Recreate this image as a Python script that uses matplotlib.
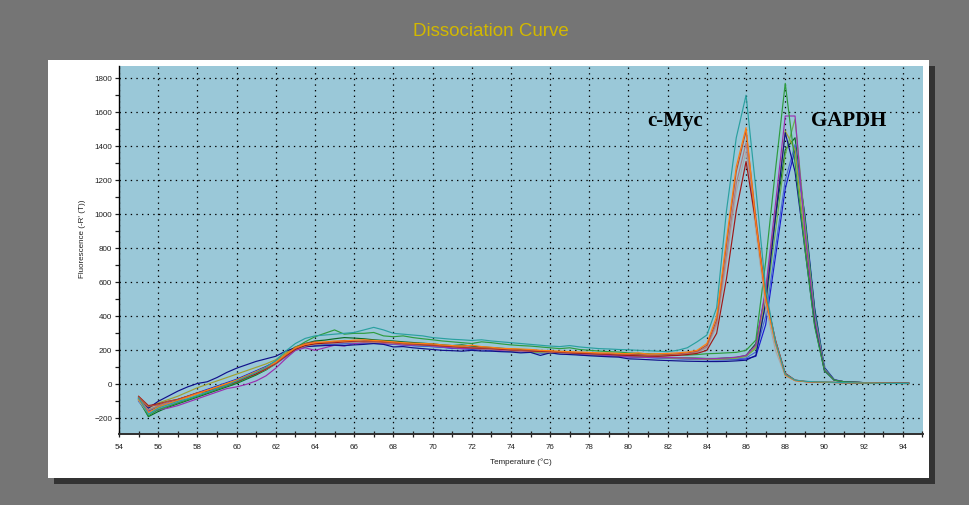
import matplotlib
matplotlib.use("Agg")
import matplotlib.pyplot as plt
from matplotlib.patches import Rectangle
from matplotlib.ticker import MultipleLocator

# ---------------- data ----------------
temps = [55.0, 55.5, 56.0, 56.5, 57.0, 57.5, 58.0, 58.5, 59.0, 59.5, 60.0, 60.5, 61.0, 61.5, 62.0, 62.5, 63.0, 63.5, 64.0,
         64.5, 65.0, 65.5, 66.0, 66.5, 67.0, 67.5, 68.0, 68.5, 69.0, 69.5, 70.0, 70.5, 71.0, 71.5, 72.0, 72.5, 73.0,
         73.5, 74.0, 74.5, 75.0, 75.5, 76.0, 76.5, 77.0, 77.5, 78.0, 78.5, 79.0, 79.5, 80.0, 80.5, 81.0, 81.5, 82.0,
         82.5, 83.0, 83.5, 84.0, 84.5, 85.0, 85.5, 86.0, 86.5, 87.0, 87.5, 88.0, 88.5, 89.0, 89.5, 90.0, 90.5,
         91.0, 92.0, 93.0, 94.3]

# c-Myc wells
myc_teal = [-80, -175, -140, -120, -100, -85, -65, -45, -25, -5, 20, 45, 70, 100, 140, 195, 240, 270, 285,
            290, 295, 300, 305, 320, 335, 320, 300, 295, 290, 285, 275, 270, 265, 262, 258, 262, 255, 250, 245, 240, 235, 230, 225, 222, 228, 220, 215, 210, 208, 205, 203, 200, 198, 195, 192,
            200, 215, 250, 290, 450, 1020, 1450, 1700, 1150, 560, 250, 60, 25, 18, 15, 14, 12,
            10, 8, 6, 5]
myc_orange = [-90, -165, -135, -115, -95, -75, -55, -35, -15, 5, 25, 50, 75, 100, 130, 175, 215, 235, 245,
              250, 255, 255, 260, 262, 258, 255, 250, 245, 242, 240, 238, 232, 228, 225, 230, 222, 218, 212, 210, 208, 205, 200, 198, 195, 192, 190, 188, 185, 185, 182, 180, 185, 178, 180, 182,
              185, 190, 200, 240, 400, 850, 1280, 1510, 950, 500, 240, 55, 22, 16, 14, 12, 11,
              10, 8, 6, 5]
myc_brown = [-75, -130, -120, -100, -90, -70, -50, -35, -20, 0, 20, 45, 70, 95, 125, 170, 215, 240, 250,
             245, 250, 258, 255, 250, 252, 248, 245, 240, 235, 238, 232, 228, 225, 220, 218, 215, 212, 210, 205, 200, 203, 198, 195, 190, 188, 186, 185, 182, 180, 178, 176, 175, 172, 170, 175,
             180, 185, 195, 230, 380, 820, 1250, 1490, 980, 520, 260, 60, 24, 17, 14, 13, 11,
             10, 8, 6, 5]
myc_rosy = [-85, -150, -125, -110, -90, -72, -55, -38, -20, 0, 22, 45, 70, 95, 125, 170, 210, 230, 240,
            245, 248, 250, 252, 250, 248, 245, 240, 238, 235, 232, 228, 225, 222, 218, 215, 212, 208, 205, 200, 198, 195, 192, 190, 188, 185, 183, 180, 178, 176, 174, 172, 170, 175, 172, 170,
            175, 180, 190, 220, 360, 760, 1180, 1420, 950, 500, 240, 55, 22, 16, 14, 12, 11,
            10, 8, 6, 5]
myc_gray = [-95, -170, -140, -120, -100, -80, -60, -40, -22, -2, 18, 42, 65, 90, 120, 165, 205, 225, 235,
            240, 242, 245, 248, 250, 250, 247, 243, 240, 236, 232, 230, 226, 222, 220, 215, 210, 208, 205, 200, 198, 196, 194, 190, 186, 184, 182, 180, 178, 176, 175, 172, 170, 168, 168, 170,
            172, 178, 188, 215, 340, 720, 1130, 1370, 900, 460, 200, 50, 22, 16, 14, 12, 11,
            10, 8, 6, 5]
myc_darkred = [-70, -125, -115, -100, -88, -70, -50, -40, -25, -5, 15, 40, 62, 90, 122, 165, 205, 228, 238,
               242, 245, 250, 252, 255, 258, 250, 246, 240, 236, 232, 230, 225, 222, 218, 214, 212, 210, 206, 202, 200, 196, 194, 192, 188, 185, 182, 180, 178, 176, 172, 170, 168, 166, 165, 168,
               170, 175, 182, 200, 300, 620, 1020, 1310, 950, 520, 260, 65, 25, 17, 14, 12, 11,
               10, 8, 6, 5]

# GAPDH wells
gap_green = [-90, -185, -150, -130, -110, -90, -70, -50, -30, -10, 10, 35, 60, 85, 120, 170, 215, 250, 280,
             300, 320, 295, 300, 300, 305, 285, 280, 285, 275, 268, 262, 255, 250, 245, 240, 250, 245, 238, 232, 228, 225, 220, 215, 210, 215, 205, 200, 196, 192, 190, 185, 182, 180, 178, 176,
             174, 172, 175, 180, 182, 185, 188, 200, 260, 720, 1260, 1770, 1300, 800, 340, 80, 25,
             15, 10, 8, 6]
gap_purple = [-85, -160, -150, -140, -125, -105, -85, -65, -45, -25, -15, 0, 20, 50, 95, 150, 200, 215, 200,
              215, 230, 225, 240, 245, 250, 240, 238, 232, 230, 235, 225, 220, 215, 210, 212, 208, 205, 200, 198, 195, 192, 198, 190, 185, 182, 178, 175, 172, 170, 165, 162, 160, 158, 160, 158,
              156, 155, 152, 150, 152, 155, 160, 170, 230, 560, 1060, 1578, 1578, 900, 380, 85, 25,
              15, 10, 8, 6]
gap_lightgreen = [-80, -150, -130, -115, -95, -75, -55, -35, -15, 5, 25, 50, 75, 100, 135, 175, 210, 225, 235,
                  240, 245, 248, 250, 250, 248, 245, 242, 238, 235, 232, 228, 225, 220, 218, 215, 210, 206, 202, 198, 195, 192, 188, 186, 183, 180, 178, 175, 172, 170, 168, 166, 164, 162, 160, 158,
                  156, 154, 152, 150, 150, 152, 155, 165, 210, 460, 900, 1350, 1560, 960, 400, 90, 25,
                  15, 10, 8, 6]
gap_olive = [-75, -140, -110, -90, -70, -45, -20, 0, 20, 40, 60, 80, 100, 120, 145, 185, 220, 235, 240,
             245, 248, 250, 250, 252, 248, 245, 240, 238, 235, 230, 228, 224, 220, 216, 212, 208, 205, 200, 198, 194, 192, 188, 185, 182, 180, 176, 174, 170, 168, 166, 165, 162, 160, 158, 156,
             154, 152, 150, 148, 148, 150, 155, 165, 220, 520, 1000, 1490, 1380, 850, 360, 85, 25,
             15, 10, 8, 6]
gap_navy = [-95, -140, -100, -70, -40, -15, 5, 15, 40, 70, 95, 115, 135, 150, 165, 195, 215, 222, 225,
            228, 230, 228, 232, 235, 240, 235, 220, 222, 215, 210, 205, 200, 198, 195, 200, 196, 195, 192, 190, 185, 188, 170, 185, 178, 175, 172, 168, 165, 162, 160, 150, 148, 145, 142, 140,
            138, 136, 135, 134, 134, 135, 138, 142, 170, 480, 980, 1480, 1250, 800, 350, 80, 25,
            15, 10, 8, 6]
gap_steel = [-100, -175, -145, -125, -105, -85, -65, -45, -25, -5, 15, 40, 65, 90, 120, 160, 200, 220, 228,
             232, 235, 238, 240, 242, 240, 238, 235, 232, 228, 225, 222, 218, 215, 212, 208, 205, 202, 198, 195, 192, 190, 186, 184, 180, 178, 175, 172, 170, 168, 166, 164, 160, 158, 155, 152,
             150, 148, 146, 145, 145, 146, 148, 155, 190, 400, 800, 1200, 1410, 950, 420, 92, 25,
             15, 10, 8, 6]
gap_darkgreen = [-90, -190, -160, -135, -115, -95, -75, -55, -35, -15, 5, 30, 55, 85, 125, 175, 220, 240, 255,
                 260, 268, 275, 272, 268, 262, 258, 255, 250, 246, 242, 238, 232, 228, 232, 225, 220, 216, 212, 208, 204, 200, 196, 192, 188, 186, 182, 178, 176, 172, 170, 168, 165, 162, 160, 158,
                 156, 155, 154, 152, 152, 155, 158, 170, 240, 540, 980, 1380, 1450, 980, 440, 95, 25,
                 15, 10, 8, 6]
gap_blue = [-85, -160, -130, -110, -90, -70, -50, -30, -10, 10, 30, 55, 80, 105, 135, 175, 210, 225, 230,
            235, 238, 240, 242, 244, 245, 240, 236, 232, 228, 225, 222, 218, 212, 210, 206, 204, 200, 198, 195, 192, 188, 185, 183, 180, 178, 175, 172, 170, 166, 164, 162, 160, 158, 156, 155,
            152, 150, 148, 146, 145, 145, 146, 150, 165, 350, 750, 1150, 1380, 1000, 450, 100, 28,
            15, 10, 8, 6]

series = [
    (gap_blue, '#1c1cd0'),
    (gap_darkgreen, '#0b6a24'),
    (gap_steel, '#4a6ad0'),
    (gap_olive, '#a0a030'),
    (gap_lightgreen, '#6ab04c'),
    (gap_purple, '#9a2fb0'),
    (gap_navy, '#10108a'),
    (gap_green, '#2e9c3e'),
    (myc_gray, '#a8a8a8'),
    (myc_rosy, '#b07880'),
    (myc_darkred, '#a01818'),
    (myc_brown, '#b4503a'),
    (myc_orange, '#ff7f10'),
    (myc_teal, '#2aa0a0'),
]

labels = [("c-Myc", 82.4, 1549), ("GAPDH", 91.25, 1549)]

# ---------------- figure ----------------
W, H = 970, 505
fig = plt.figure(figsize=(W / 100, H / 100), dpi=100, facecolor='#757575')

def px_rect(x0, y0, x1, y1, color, z):
    fig.patches.append(Rectangle((x0 / W, 1 - y1 / H), (x1 - x0) / W, (y1 - y0) / H,
                                 transform=fig.transFigure, facecolor=color,
                                 edgecolor='none', zorder=z))

px_rect(54, 66, 935, 484, '#333333', 0)
px_rect(48, 60, 929, 478, '#ffffff', 1)

fig.text(491 / W, 1 - 31 / H, "Dissociation Curve", ha='center', va='center',
         color='#d2b800', fontsize=13.5, family='Liberation Sans')

ax = fig.add_axes([119 / W, 1 - 434 / H, 804 / W, 368 / H])
ax.set_facecolor('#9ac8d8')
ax.set_zorder(2)

for vals, col in series:
    ax.plot(temps, vals, color=col, lw=0.85)

for txt, x, y in labels:
    ax.text(x, y, txt, ha='center', va='center', fontsize=15, fontweight='bold',
            family='Liberation Serif', color='black')

ax.set_xlim(54, 95.03)
ax.set_ylim(-292, 1872)
ax.xaxis.set_major_locator(MultipleLocator(2))
ax.xaxis.set_minor_locator(MultipleLocator(1))
ax.yaxis.set_major_locator(MultipleLocator(200))
ax.yaxis.set_minor_locator(MultipleLocator(100))

ax.grid(True, which='major', color='black', linestyle=(0, (1.1, 3.4)), lw=0.9)
ax.set_axisbelow(True)

for s in ['top', 'right']:
    ax.spines[s].set_visible(False)
ax.spines['left'].set_color('black')
ax.spines['bottom'].set_color('#303030')
ax.spines['left'].set_linewidth(1.0)
ax.spines['bottom'].set_linewidth(1.4)

ax.tick_params(axis='x', which='both', direction='inout', colors='#202020', labelsize=5.8, pad=5)
ax.tick_params(axis='x', which='major', length=5, width=0.9)
ax.tick_params(axis='x', which='minor', length=5, width=0.9)
ax.tick_params(axis='y', which='both', direction='out', colors='#202020', labelsize=5.8, pad=2)
ax.tick_params(axis='y', which='major', length=3, width=0.9)
ax.tick_params(axis='y', which='minor', length=3, width=0.9)
for lab in ax.get_xticklabels() + ax.get_yticklabels():
    lab.set_family('Liberation Sans')

ax.set_xlabel("Temperature (°C)", fontsize=5.8, family='Liberation Sans', labelpad=5, color='#202020')
ax.set_ylabel("Fluorescence (-R' (T))", fontsize=5.8, family='Liberation Sans', labelpad=5, color='#202020')
ax.yaxis.set_label_coords(-0.041, 0.53)

fig.savefig("out.png", dpi=100, facecolor=fig.get_facecolor())
